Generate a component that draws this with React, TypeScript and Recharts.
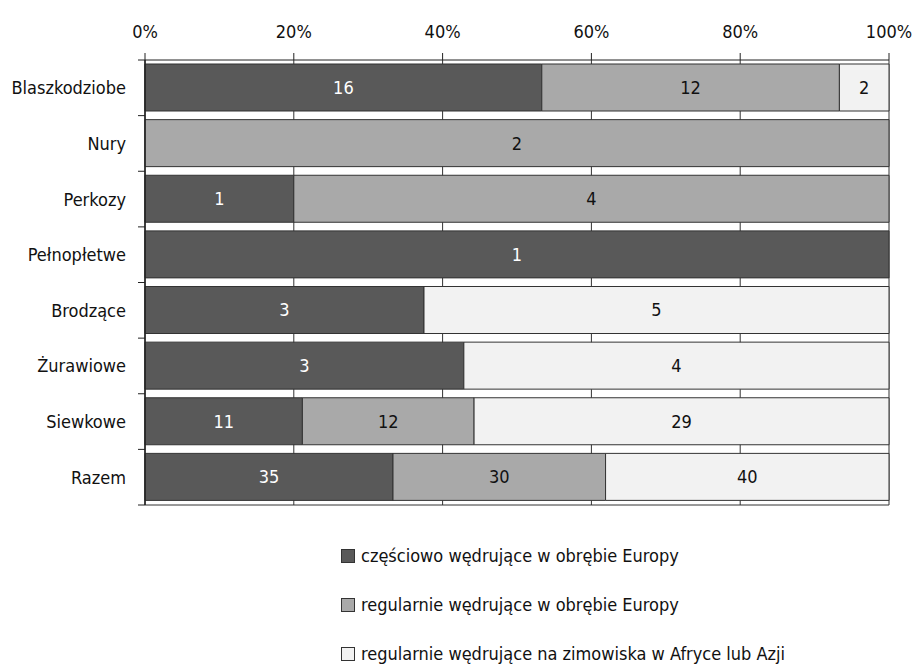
import React from 'react';
import { BarChart, Bar, XAxis, YAxis, CartesianGrid, LabelList, Legend } from 'recharts';

const categories = ['Blaszkodziobe', 'Nury', 'Perkozy', 'Pełnopłetwe', 'Brodzące', 'Żurawiowe', 'Siewkowe', 'Razem'];
const partialEurope = [16, 0, 1, 1, 3, 3, 11, 35];
const regularEurope = [12, 2, 4, 0, 0, 0, 12, 30];
const africaAsia = [2, 0, 0, 0, 5, 4, 29, 40];
const seriesNames = [
  'częściowo wędrujące w obrębie Europy',
  'regularnie wędrujące w obrębie Europy',
  'regularnie wędrujące na zimowiska w Afryce lub Azji',
];
const seriesColors = ['#595959', '#a9a9a9', '#f2f2f2'];
const labelColors = ['#ffffff', '#111111', '#111111'];
const xTicks = [0, 0.2, 0.4, 0.6, 0.8, 1];

const data = categories.map((name, i) => ({
  name,
  s0: partialEurope[i],
  s1: regularEurope[i],
  s2: africaAsia[i],
}));

const FONT = "'DejaVu Sans Condensed', 'DejaVu Sans', sans-serif";
const TEXT_STYLE = { fontFamily: FONT, fontWeight: 400 } as const;

const CategoryTick = (props: any) => {
  const { x, y, payload, index, visibleTicksCount } = props;
  const half = payload && typeof payload.offset === 'number' ? payload.offset : 0;
  const gap = 19;
  const isLast = index === visibleTicksCount - 1;
  return (
    <g>
      <text x={x} y={y} dy="0.36em" textAnchor="end" fill="#111" style={{ ...TEXT_STYLE, fontSize: 18 }}>
        {payload.value}
      </text>
      <line x1={x + gap - 7} x2={x + gap} y1={y - half} y2={y - half} stroke="#222" />
      {isLast && <line x1={x + gap - 7} x2={x + gap} y1={y + half} y2={y + half} stroke="#222" />}
    </g>
  );
};

const LegendContent = () => (
  <div style={{ ...TEXT_STYLE, fontSize: 18, color: '#111' }}>
    {seriesNames.map((n, i) => (
      <div key={n} style={{ display: 'flex', alignItems: 'center', height: 49, whiteSpace: 'nowrap' }}>
        <span
          style={{
            display: 'inline-block',
            width: 12,
            height: 12,
            background: seriesColors[i],
            border: '1px solid #333',
            marginRight: 6,
          }}
        />
        <span>{n}</span>
      </div>
    ))}
  </div>
);

export default function App() {
  return (
    <div
      style={{
        position: 'absolute',
        left: 0,
        top: 0,
        width: 918,
        height: 667,
        background: '#fff',
        ...TEXT_STYLE,
      }}
    >
      <BarChart
        width={918}
        height={667}
        data={data}
        layout="vertical"
        stackOffset="expand"
        margin={{ top: 0, right: 29, bottom: 162, left: 0 }}
      >
        <CartesianGrid
          xAxisId="top"
          yAxisId="cat"
          horizontal={true}
          vertical={true}
          horizontalCoordinatesGenerator={({ offset }: any) => [offset.top + offset.height]}
          stroke="#333"
          strokeOpacity={1}
        />
        <XAxis
          xAxisId="top"
          type="number"
          orientation="top"
          domain={[0, 1]}
          ticks={xTicks}
          height={60}
          tickFormatter={(v: number) => `${Math.round(v * 100)}%`}
          tick={{ fill: '#111', fontSize: 18 }}
          tickSize={7}
          tickMargin={15}
          axisLine={{ stroke: '#222' }}
          tickLine={{ stroke: '#222' }}
        />
        <YAxis
          yAxisId="cat"
          type="category"
          dataKey="name"
          width={145}
          axisLine={{ stroke: '#222', strokeWidth: 1.5 }}
          tickLine={false}
          tickSize={0}
          tickMargin={19}
          tick={<CategoryTick />}
        />
        {[0, 1, 2].map((i) => (
          <Bar
            key={i}
            dataKey={`s${i}`}
            name={seriesNames[i]}
            stackId="a"
            xAxisId="top"
            yAxisId="cat"
            fill={seriesColors[i]}
            stroke="#333"
            strokeWidth={1}
            barSize={47}
            isAnimationActive={false}
          >
            <LabelList
              dataKey={`s${i}`}
              position="center"
              fill={labelColors[i]}
              fontSize={18}
              formatter={(v: any) => (v && Number(v) > 0 ? v : '')}
            />
          </Bar>
        ))}
        <Legend
          layout="vertical"
          verticalAlign="middle"
          align="center"
          content={<LegendContent />}
          wrapperStyle={{ left: 341, top: 531, width: 520, height: 150 }}
        />
      </BarChart>
    </div>
  );
}
